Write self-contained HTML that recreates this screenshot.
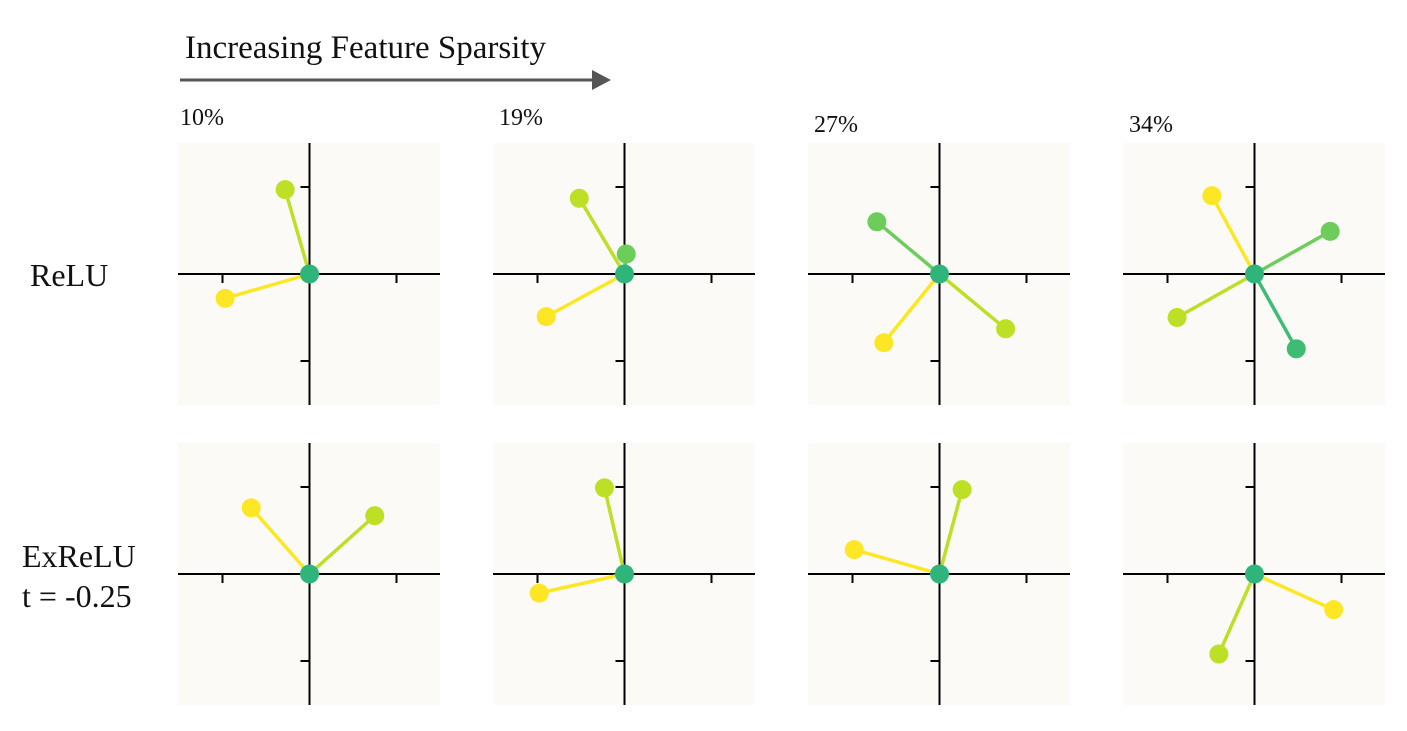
<!DOCTYPE html>
<html><head><meta charset="utf-8"><style>
body{margin:0;background:#fff;}
svg text{font-family:"Liberation Serif",serif;fill:#111;}
</style></head><body>
<svg id="chart" width="1407" height="726" viewBox="0 0 1407 726" xmlns="http://www.w3.org/2000/svg">
<text x="185" y="58" font-size="33">Increasing Feature Sparsity</text>
<line x1="180" y1="80" x2="594" y2="80" stroke="#555" stroke-width="3"/>
<polygon points="592,70 611,80 592,90" fill="#555"/>
<text x="30" y="286" font-size="32">ReLU</text>
<text x="22" y="567" font-size="32">ExReLU</text>
<text x="22" y="607" font-size="32">t = -0.25</text>
<g id="panels"></g>
</svg>
<script>
const sparsityLabels = ["10%","19%","27%","34%"];
// features per panel: [x, y, colorIndex]
const reluFeatures = [
  [[-0.28,0.97,1],[-0.97,-0.28,0]],
  [[-0.52,0.87,1],[0.02,0.23,2],[-0.90,-0.49,0]],
  [[-0.72,0.60,2],[0.76,-0.63,1],[-0.64,-0.79,0]],
  [[-0.49,0.90,0],[0.87,0.49,2],[-0.89,-0.50,1],[0.48,-0.86,3]]
];
const exreluFeatures = [
  [[-0.67,0.76,0],[0.75,0.67,1]],
  [[-0.23,0.99,1],[-0.98,-0.22,0]],
  [[0.26,0.97,1],[-0.98,0.28,0]],
  [[0.91,-0.41,0],[-0.41,-0.92,1]]
];
const palette = ["#fde725","#bddf26","#6ccd5a","#3fbc73"];
const labelY = [125,125,132,132];
const NS="http://www.w3.org/2000/svg";
const g=document.getElementById('panels');
const colX=[178,493,808,1123], rowY=[143,443], W=262, S=87;
function mk(tag,attrs,parent){const e=document.createElementNS(NS,tag);for(const k in attrs)e.setAttribute(k,attrs[k]);parent.appendChild(e);return e;}
[reluFeatures,exreluFeatures].forEach((rows,r)=>{
  rows.forEach((feats,c)=>{
    const x0=colX[c], y0=rowY[r], cx=x0+W/2+0.5, cy=y0+W/2;
    const p=mk('g',{},g);
    
    
    const bg=mk('rect',{x:x0,y:y0,width:W,height:W,fill:'#fbfaf6'},p);
    
    
    const ax=mk('g',{stroke:'#000','stroke-width':2},p);
    
    
    mk('line',{x1:x0,y1:cy,x2:x0+W,y2:cy},ax);
    mk('line',{x1:cx,y1:y0,x2:cx,y2:y0+W},ax);
    [-1,1].forEach(t=>{
      mk('line',{x1:cx+t*S,y1:cy,x2:cx+t*S,y2:cy+9},ax);
      mk('line',{x1:cx-9,y1:cy-t*S,x2:cx,y2:cy-t*S},ax);
    });
    feats.forEach(f=>{
      const l=mk('line',{x1:cx,y1:cy,x2:cx+f[0]*S,y2:cy-f[1]*S,stroke:palette[f[2]],'stroke-width':3.5},p);
      
      
    });
    const o=mk('circle',{cx:cx,cy:cy,r:9.5,fill:'#2fb47c'},p);
    
    
    feats.forEach(f=>{
      const d=mk('circle',{cx:cx+f[0]*S,cy:cy-f[1]*S,r:9.5,fill:palette[f[2]]},p);
      
      
    });
    if(r===0){
      const t=mk('text',{x:x0+2+(c>1?4:0)+(c===1?4:0),y:labelY[c],'font-size':24},g);
      t.textContent=sparsityLabels[c];
      
      
    }
  });
});
</script>
</body></html>
